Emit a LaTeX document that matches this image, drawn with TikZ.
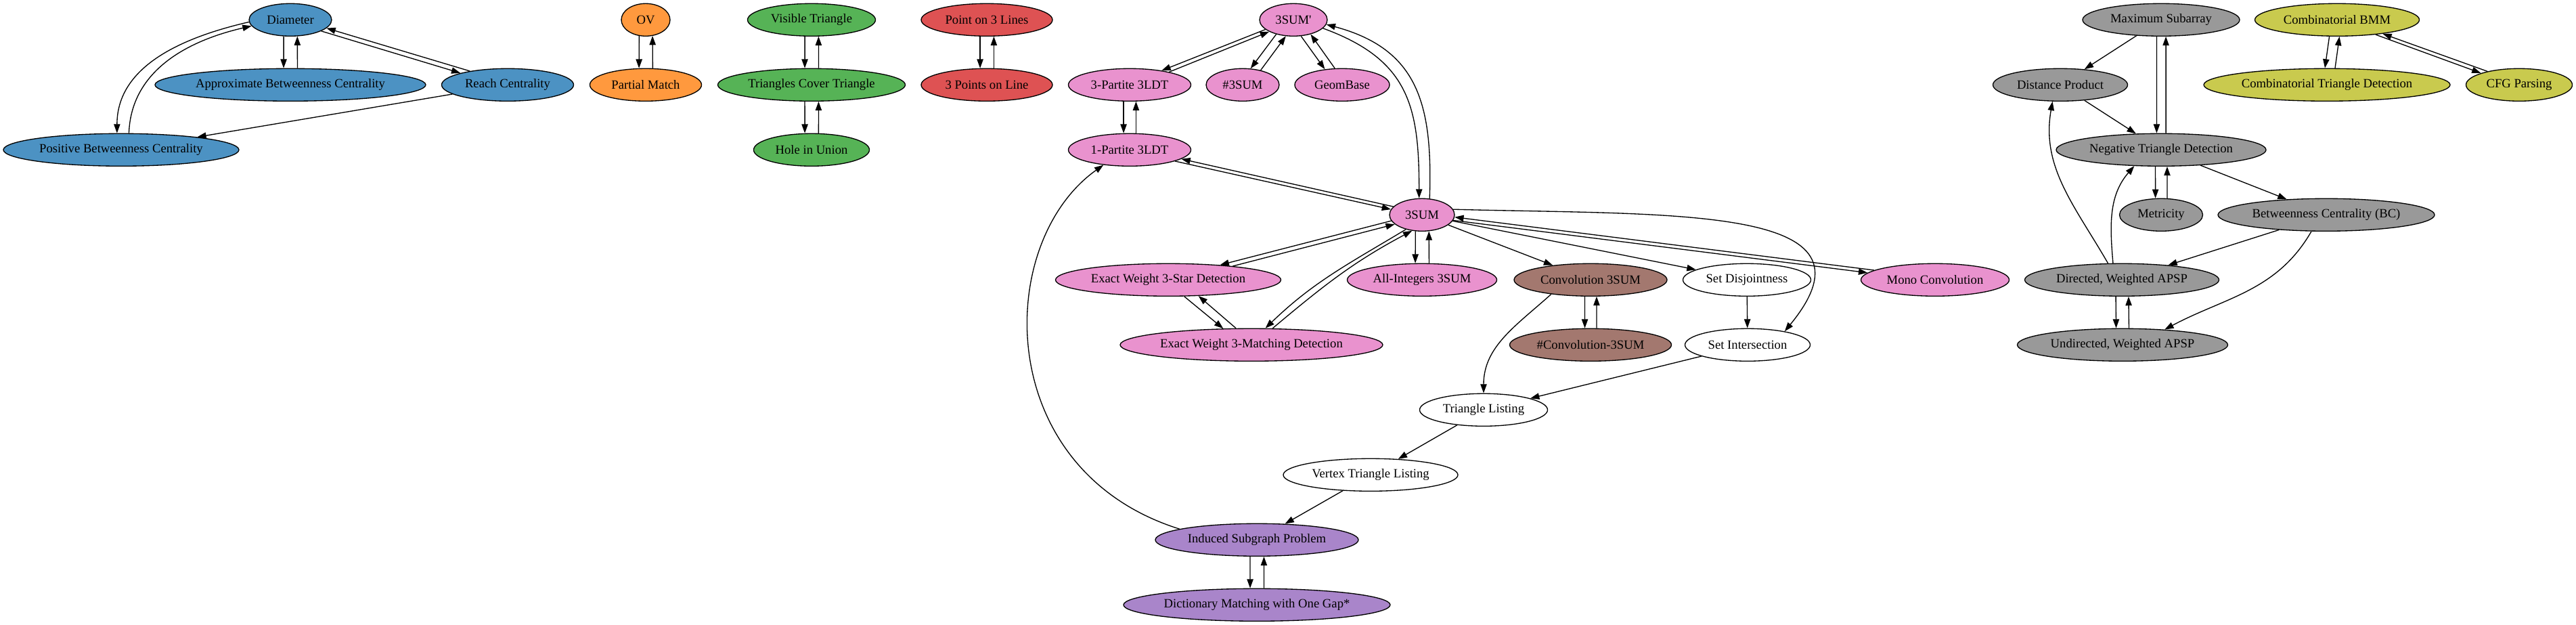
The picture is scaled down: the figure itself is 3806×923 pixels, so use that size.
\documentclass[tikz,border=0pt]{standalone}
\usepackage{fontspec}
\setmainfont{Liberation Serif}
\usetikzlibrary{arrows.meta,shapes.geometric}
\definecolor{cblue}{RGB}{76,146,195}
\definecolor{corange}{RGB}{255,153,62}
\definecolor{cgreen}{RGB}{86,179,86}
\definecolor{cred}{RGB}{222,82,83}
\definecolor{cpurple}{RGB}{169,133,202}
\definecolor{cbrown}{RGB}{163,120,111}
\definecolor{cpink}{RGB}{233,146,206}
\definecolor{cgray}{RGB}{153,153,153}
\definecolor{colive}{RGB}{201,202,78}

\newcommand\mknode[6]{%
  \pgfmathsetmacro\tmpw{#4*0.75}%
  \pgfmathsetmacro\tmpa{#4/20}%
  \node[nd, fill=#5, minimum width=\tmpw pt] (#1) at (#2,#3) {#6};%
  \expandafter\xdef\csname NX@#1\endcsname{#2}%
  \expandafter\xdef\csname NY@#1\endcsname{#3}%
  \expandafter\xdef\csname NA@#1\endcsname{\tmpa}%
}
\newcommand\pairedge[3][9]{%
  \edef\pAx{\csname NX@#2\endcsname}\edef\pAy{\csname NY@#2\endcsname}\edef\pAa{\csname NA@#2\endcsname}%
  \edef\pBx{\csname NX@#3\endcsname}\edef\pBy{\csname NY@#3\endcsname}\edef\pBa{\csname NA@#3\endcsname}%
  \pgfmathsetmacro\pth{atan2(\pBy-\pAy,\pBx-\pAx)}%
  \pgfmathsetmacro\pra{10*\pAa*2.4/sqrt((2.4*cos(\pth))^2+(\pAa*sin(\pth))^2)}%
  \pgfmathsetmacro\prb{10*\pBa*2.4/sqrt((2.4*cos(\pth))^2+(\pBa*sin(\pth))^2)}%
  \pgfmathsetmacro\pda{asin(min(0.9,#1/\pra))}%
  \pgfmathsetmacro\pdb{asin(min(0.9,#1/\prb))}%
  \pgfmathsetmacro\paone{\pth-\pda}%
  \pgfmathsetmacro\pbone{\pth+180+\pdb}%
  \pgfmathsetmacro\pbtwo{\pth+180-\pdb}%
  \pgfmathsetmacro\patwo{\pth+\pda}%
  \draw[arr] (#2.\paone) -- (#3.\pbone);%
  \draw[arr] (#3.\pbtwo) -- (#2.\patwo);%
}

\begin{document}
\begin{tikzpicture}[x=0.75pt,y=0.75pt,
  nd/.style={ellipse, draw=black, line width=1pt, inner sep=0pt, minimum height=36pt,
    font=\fontsize{14pt}{16pt}\selectfont},
  arr/.style={-{Triangle[length=10pt,width=7pt]}, line width=1pt}]
\fill[white] (0,0) rectangle (3806,923);
\useasboundingbox (0,0) rectangle (3806,923);

% ---- nodes ----
\mknode{dia}{429}{893.7}{122}{cblue}{Diameter}
\mknode{abc}{429}{797.7}{400}{cblue}{Approximate Betweenness Centrality}
\mknode{reach}{750}{797.7}{195}{cblue}{Reach Centrality}
\mknode{pbc}{179}{701.7}{348}{cblue}{Positive Betweenness Centrality}
\mknode{ov}{954}{893.7}{72}{corange}{OV}
\mknode{pm}{954}{797.7}{165}{corange}{Partial Match}
\mknode{vt}{1199}{893.7}{189}{cgreen}{Visible Triangle}
\mknode{tct}{1199}{797.7}{277}{cgreen}{Triangles Cover Triangle}
\mknode{hiu}{1199}{701.7}{171}{cgreen}{Hole in Union}
\mknode{pol}{1458}{893.7}{194}{cred}{Point on 3 Lines}
\mknode{tpl}{1458}{797.7}{194}{cred}{3 Points on Line}
\mknode{tsp}{1911}{893.7}{100}{cpink}{3SUM\textquotesingle}
\mknode{tpart}{1669}{797.7}{181}{cpink}{3-Partite 3LDT}
\mknode{nts}{1836}{797.7}{108}{cpink}{\#3SUM}
\mknode{gb}{1983}{797.7}{140}{cpink}{GeomBase}
\mknode{opart}{1669}{701.7}{181}{cpink}{1-Partite 3LDT}
\mknode{ts}{2101}{605.7}{96}{cpink}{3SUM}
\mknode{ews}{1726}{509.7}{333}{cpink}{Exact Weight 3-Star Detection}
\mknode{ai}{2101}{509.7}{221}{cpink}{All-Integers 3SUM}
\mknode{conv}{2350}{509.7}{226}{cbrown}{Convolution 3SUM}
\mknode{sd}{2581}{509.7}{189}{white}{Set Disjointness}
\mknode{mono}{2859}{509.7}{219}{cpink}{Mono Convolution}
\mknode{ewm}{1849}{413.7}{388}{cpink}{Exact Weight 3-Matching Detection}
\mknode{nconv}{2350}{413.7}{239}{cbrown}{\#Convolution-3SUM}
\mknode{si}{2582}{413.7}{185}{white}{Set Intersection}
\mknode{tl}{2192}{317.7}{189}{white}{Triangle Listing}
\mknode{vtl}{2025}{221.7}{258}{white}{Vertex Triangle Listing}
\mknode{isp}{1857}{125.7}{300}{cpurple}{Induced Subgraph Problem}
\mknode{dm}{1857}{29.7}{394}{cpurple}{Dictionary Matching with One Gap*}
\mknode{ms}{3193}{893.7}{232}{cgray}{Maximum Subarray}
\mknode{bmm}{3453}{893.7}{243}{colive}{Combinatorial BMM}
\mknode{dp}{3044}{797.7}{199}{cgray}{Distance Product}
\mknode{ctd}{3438}{797.7}{364}{colive}{Combinatorial Triangle Detection}
\mknode{cfg}{3722}{797.7}{157}{colive}{CFG Parsing}
\mknode{ntd}{3193}{701.7}{310}{cgray}{Negative Triangle Detection}
\mknode{met}{3193}{605.7}{123}{cgray}{Metricity}
\mknode{bc}{3437}{605.7}{320}{cgray}{Betweenness Centrality (BC)}
\mknode{dw}{3135}{509.7}{287}{cgray}{Directed, Weighted APSP}
\mknode{uw}{3136}{413.7}{311}{cgray}{Undirected, Weighted APSP}

% ---- two-way edges ----
\pairedge{dia}{abc}
\pairedge[3]{dia}{reach}
\pairedge{ov}{pm}
\pairedge{vt}{tct}
\pairedge{tct}{hiu}
\pairedge{pol}{tpl}
\pairedge[2.5]{tsp}{tpart}
\pairedge[6]{tsp}{nts}
\pairedge[6]{tsp}{gb}
\pairedge[8.5]{tpart}{opart}
\pairedge[2.5]{opart}{ts}
\pairedge[3]{ts}{ews}
\pairedge{ts}{ai}
\pairedge[2.5]{ts}{mono}
\pairedge[6]{ews}{ewm}
\pairedge[8]{conv}{nconv}
\pairedge{isp}{dm}
\pairedge[6.5]{ms}{ntd}
\pairedge[8]{ntd}{met}
\pairedge[8.5]{dw}{uw}
\pairedge[7]{bmm}{ctd}
\pairedge[2.5]{bmm}{cfg}

% ---- curved two-way edges ----
\draw[arr] (dia.183) to[out=193, in=90] (pbc.104);
\draw[arr] (pbc.65) to[out=88, in=193] (dia.189);
\draw[arr] (tsp.-16) to[out=-20, in=90, looseness=1.2] (ts.100);
\draw[arr] (ts.65) to[out=88, in=-15, looseness=1.2] (tsp.-8);
\draw[arr] (ts.222) to[out=211, in=44] (ewm.50);
\draw[arr] (ewm.38) to[out=40, in=208] (ts.238);

% ---- one-way edges ----
\draw[arr] (reach) -- (pbc);
\draw[arr] (ts) -- (conv);
\draw[arr] (ts) -- (sd);
\draw[arr] (sd) -- (si);
\draw[arr] (si) -- (tl);
\draw[arr] (tl) -- (vtl);
\draw[arr] (vtl) -- (isp);
\draw[arr] (ms) -- (dp);
\draw[arr] (dp) -- (ntd);
\draw[arr] (ntd) -- (bc);
\draw[arr] (bc) -- (dw);
\draw[arr] (isp.172) .. controls (1465,229) and (1469,565) .. (opart.210);
\draw[arr] (conv.200) to[out=222, in=90] (tl.north);
\draw[arr] (ts.10) .. controls (2480,605) and (2790,620) .. (si.20);
\draw[arr] (dw.130) to[out=120, in=260] (dp.245);
\draw[arr] (dw.118) to[out=95, in=229] (ntd.211);
\draw[arr] (bc.228) to[out=240, in=28] (uw.20);
\end{tikzpicture}
\end{document}
